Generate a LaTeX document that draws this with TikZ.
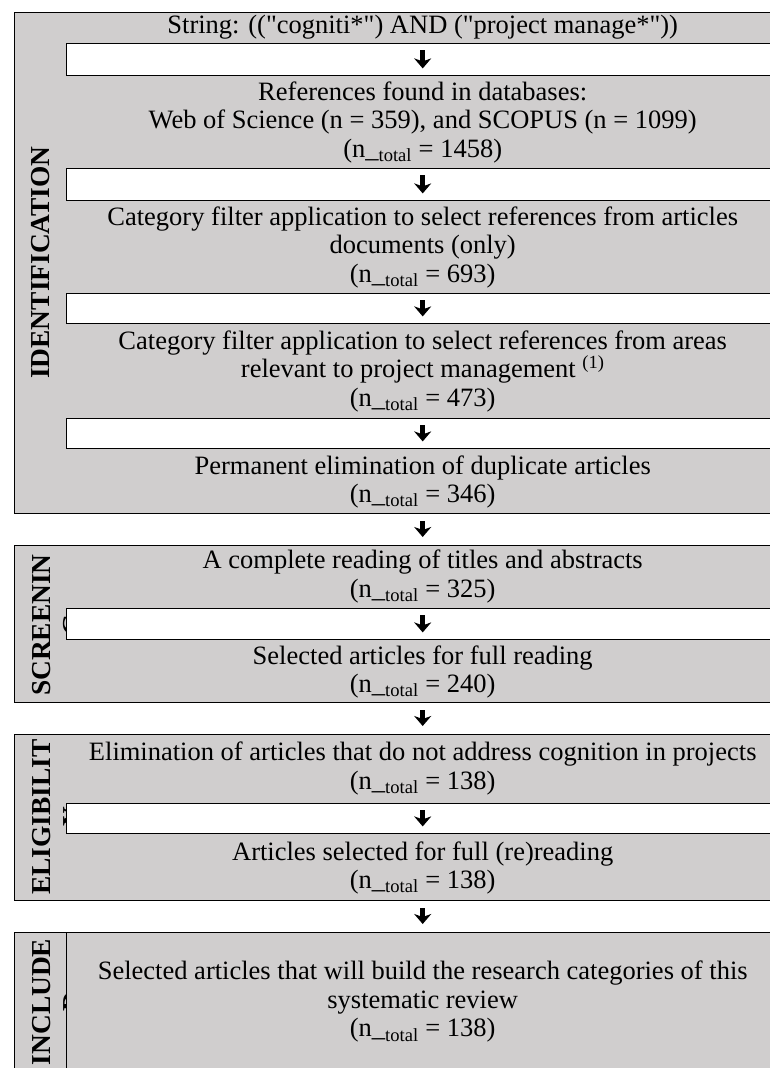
\documentclass[tikz,border=0pt]{standalone}
\usepackage{fontspec}
\setmainfont{Liberation Serif}[Ligatures=TeXOff]
\usetikzlibrary{arrows.meta,positioning,calc}
\definecolor{boxgray}{RGB}{208,206,206}
\tikzset{
  secbox/.style={rectangle,draw,line width=1.4pt,fill=boxgray,inner sep=0pt,anchor=north west,minimum width=764pt},
  gapbox/.style={rectangle,draw,line width=1.4pt,fill=white,inner sep=0pt,anchor=north west,minimum width=712pt},
  txt/.style={align=center,inner sep=0pt,font=\fontsize{26.5}{28.5}\selectfont},
  lbl/.style={rotate=90,align=center,inner sep=0pt,font=\fontsize{27.4}{31}\selectfont\bfseries},
  da/.style={-{Stealth[length=10pt,width=17pt,inset=3pt]},line width=5pt,shorten <=7pt,shorten >=8pt}
}

\begin{document}
\begin{tikzpicture}[x=1pt,y=-1pt]
\useasboundingbox (0,0) rectangle (770,1068);
\clip (0,0) rectangle (770,1068);
% phase frames
\node[secbox, minimum height=501pt] (S1) at (14,12) {};
\node[secbox, minimum height=157pt] (S2) at (14,545) {};
\node[secbox, minimum height=166pt] (S3) at (14,734) {};
\node[secbox, minimum height=138pt] (S4) at (14,932) {};
% phase labels, cut at the first column
\begin{scope}
\clip (14,12) rectangle (66.5,1070);
\node[lbl] (L1) at (41,262.5) {IDENTIFICATION};
\node[lbl] (L2) at (56.8,625) {SCREENIN\\G};
\node[lbl] (L3) at (56.8,817) {ELIGIBILIT\\Y};
\node[lbl] (L4) at (56.8,1002) {INCLUDE\\D};
\end{scope}
\draw[line width=1.4pt] (66.5,932) -- (66.5,1070);
% white rows
\node[gapbox, minimum height=32pt] (G1) at (66,43) {};
\node[gapbox, minimum height=32pt] (G2) at (66,168) {};
\node[gapbox, minimum height=30pt] (G3) at (66,293) {};
\node[gapbox, minimum height=30pt] (G4) at (66,418) {};
\node[gapbox, minimum height=31pt] (G5) at (66,608) {};
\node[gapbox, minimum height=30pt] (G6) at (66,803) {};
% texts
\node[txt] (T1) at ($(S1.north -| G1)!0.5!(G1.north)$) {String: (("cogniti*") AND ("project manage*"))};
\node[txt] (T2) at ($(G1.south)!0.5!(G2.north)$) {References found in databases:\\Web of Science (n = 359), and SCOPUS (n = 1099)\\(n\_\textsubscript{total} = 1458)};
\node[txt] (T3) at ($(G2.south)!0.5!(G3.north)$) {Category filter application to select references from articles\\documents (only)\\(n\_\textsubscript{total} = 693)};
\node[txt] (T4) at ($(G3.south)!0.5!(G4.north)$) {Category filter application to select references from areas\\relevant to project management \textsuperscript{(1)}\\(n\_\textsubscript{total} = 473)};
\node[txt] (T5) at ($(G4.south)!0.5!(S1.south -| G4)$) {Permanent elimination of duplicate articles\\(n\_\textsubscript{total} = 346)};
\node[txt] (T6) at ($(S2.north -| G5)!0.5!(G5.north)$) {A complete reading of titles and abstracts\\(n\_\textsubscript{total} = 325)};
\node[txt] (T7) at ($(G5.south)!0.5!(S2.south -| G5)$) {Selected articles for full reading\\(n\_\textsubscript{total} = 240)};
\node[txt] (T8) at ($(S3.north -| G6)!0.5!(G6.north)$) {Elimination of articles that do not address cognition in projects\\(n\_\textsubscript{total} = 138)};
\node[txt] (T9) at ($(G6.south)!0.5!(S3.south -| G6)$) {Articles selected for full (re)reading\\(n\_\textsubscript{total} = 138)};
\node[txt] (T10) at ($(S4.north -| G1)!0.5!(S4.south -| G1)$) {Selected articles that will build the research categories of this\\systematic review\\(n\_\textsubscript{total} = 138)};
% arrows
\draw[da] (G1.north) -- (G1.south);
\draw[da] (G2.north) -- (G2.south);
\draw[da] (G3.north) -- (G3.south);
\draw[da] (G4.north) -- (G4.south);
\draw[da] (S1.south -| G4) -- (S2.north -| G5);
\draw[da] (G5.north) -- (G5.south);
\draw[da] (S2.south -| G5) -- (S3.north -| G6);
\draw[da] (G6.north) -- (G6.south);
\draw[da] (S3.south -| G6) -- (S4.north -| G6);
\end{tikzpicture}
\end{document}
